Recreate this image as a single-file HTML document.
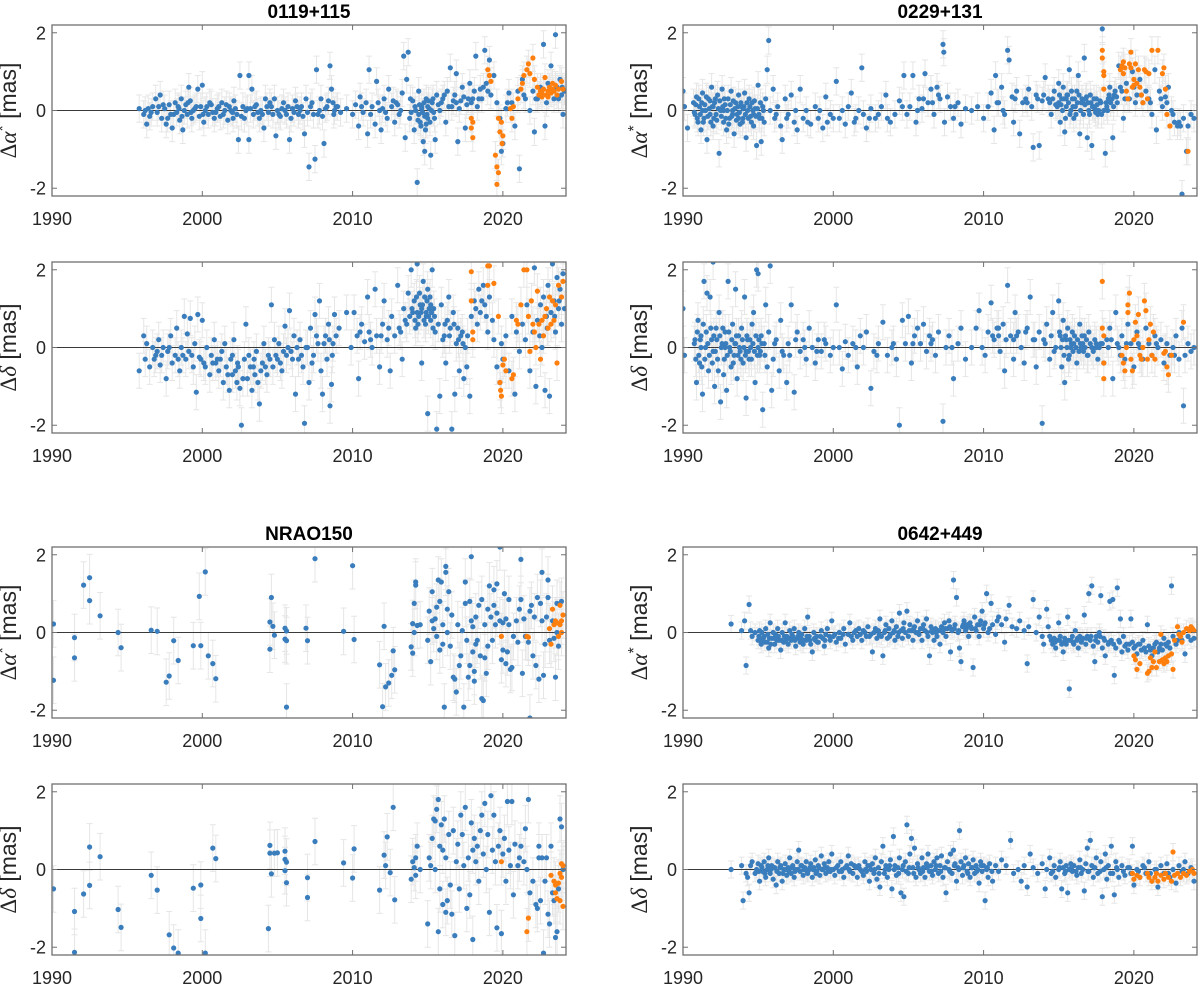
<!DOCTYPE html>
<html><head><meta charset="utf-8"><style>
html,body{margin:0;padding:0;background:#fff;}
svg{display:block;font-family:"Liberation Sans",sans-serif;}
</style></head><body>
<svg id="fig" width="1200" height="984" viewBox="0 0 1200 984" xmlns="http://www.w3.org/2000/svg"></svg>
<script>
const xTicks=[1990,2000,2010,2020];
const yTicks=[-2,0,2];
const sourceNames=["0119+115","0229+131","NRAO150","0642+449"];
const typicalErr=[0.35,0.45,0.35,0.45,0.6,0.6,0.22,0.22];
const blue_0119_ra=[[1995.8,0.05],[1996.1,-0.1],[1996.2,0.0],[1996.3,-0.35],[1996.5,-0.15],[1996.7,0.1],[1996.9,0.3],[1997.0,-0.05],[1997.2,0.4],[1997.3,-0.2],[1997.5,0.05],[1997.6,-0.35],[1997.8,0.15],[1997.9,-0.1],[1998.0,-0.45],[1998.2,0.2],[1998.3,-0.05],[1998.4,0.1],[1998.5,-0.25],[1998.6,0.3],[1998.7,-0.5],[1998.8,0.0],[1998.9,0.15],[1999.0,-0.1],[1999.1,0.6],[1999.2,0.25],[1999.3,-0.2],[1999.5,0.05],[1999.7,0.55],[1999.8,-0.15],[1999.9,0.1],[2000.0,0.65],[2000.1,-0.3],[2000.2,0.0],[2000.4,-0.1],[2000.6,0.15],[2000.8,-0.2],[2001.0,0.05],[2001.2,-0.15],[2001.3,0.2],[2001.5,0.0],[2001.7,-0.25],[2001.8,0.1],[2002.0,-0.05],[2002.1,0.25],[2002.3,-0.1],[2002.4,-0.75],[2002.5,0.9],[2002.7,0.1],[2002.8,-0.2],[2003.0,0.05],[2003.1,0.9],[2003.1,-0.75],[2003.3,0.55],[2003.4,-0.1],[2003.6,0.15],[2003.8,-0.2],[2003.9,0.0],[2004.1,-0.45],[2004.2,0.3],[2004.4,-0.05],[2004.6,0.1],[2004.8,0.3],[2004.9,-0.65],[2005.0,0.0],[2005.2,-0.15],[2005.4,0.2],[2005.6,-0.1],[2005.8,-0.75],[2006.0,0.05],[2006.2,0.25],[2006.4,-0.1],[2006.6,0.1],[2006.8,-0.6],[2006.9,0.3],[2007.0,-0.05],[2007.1,-1.45],[2007.3,0.2],[2007.5,-1.25],[2007.6,1.05],[2007.8,0.0],[2007.9,0.3],[2008.0,-0.15],[2008.1,-0.85],[2008.3,0.1],[2008.5,1.15],[2008.6,0.55],[2008.7,0.2],[2008.8,0.0],[2009.0,0.1],[2009.2,-0.05],[2009.6,0.05],[2010.0,-0.1],[2010.2,0.15],[2010.4,-0.4],[2010.5,0.35],[2010.7,-0.05],[2010.9,0.2],[2011.0,-0.6],[2011.1,1.05],[2011.3,0.1],[2011.5,-0.35],[2011.6,0.75],[2011.8,0.0],[2011.9,-0.5],[2012.1,0.3],[2012.3,-0.2],[2012.4,0.55],[2012.6,0.1],[2012.8,-0.3],[2012.9,0.2],[2013.1,-0.1],[2013.3,0.45],[2013.4,1.4],[2013.5,-0.7],[2013.6,0.8],[2013.7,1.5],[2013.8,-0.2],[2014.0,0.25],[2014.1,-0.5],[2014.2,0.0],[2014.3,-1.85],[2014.4,0.5],[2014.5,-0.3],[2014.6,0.1],[2014.7,-0.8],[2014.8,-1.05],[2014.9,0.3],[2015.0,-0.2],[2015.1,0.05],[2015.2,-1.15],[2015.3,0.2],[2015.5,-0.75],[2015.6,0.4],[2015.8,0.0],[2016.0,0.3],[2016.2,-0.3],[2016.3,0.5],[2016.5,1.1],[2016.6,0.1],[2016.8,0.4],[2016.9,0.95],[2017.0,-0.8],[2017.2,0.25],[2017.3,0.6],[2017.5,-0.45],[2017.6,0.15],[2017.8,0.7],[2018.0,0.3],[2018.2,1.4],[2018.3,0.1],[2018.5,0.55],[2018.6,0.3],[2018.8,1.55],[2018.9,0.7],[2019.1,1.3],[2019.2,0.4],[2019.4,0.9],[2019.6,0.2],[2019.8,-0.2],[2019.9,-1.05],[2020.0,-0.85],[2020.2,0.05],[2020.4,0.45],[2020.6,0.2],[2020.8,-0.4],[2021.0,0.5],[2021.1,-1.5],[2021.3,0.8],[2021.5,0.3],[2021.8,0.0],[2022.0,0.5],[2022.1,-0.55],[2022.3,0.3],[2022.5,0.6],[2022.7,1.7],[2022.8,-0.4],[2023.0,0.7],[2023.2,1.15],[2023.4,0.3],[2023.5,1.95],[2023.6,0.6],[2023.8,0.8],[2023.9,0.4],[2024.0,-0.1],[2024.1,0.5],[2014.4,-0.1],[2014.6,0.05],[2014.8,-0.15],[2015.0,0.1],[2014.9,-0.35],[2015.4,-0.05],[2016.7,0.25],[2017.1,0.05],[2017.9,0.2],[1996.4,0.05],[1997.1,0.1],[1998.1,-0.1],[1999.4,0.0],[2000.3,0.1],[2000.9,-0.05],[2001.4,-0.1],[2001.9,0.0],[2002.6,-0.15],[2003.2,0.05],[2003.7,-0.05],[2004.3,0.1],[2004.7,-0.1],[2005.3,0.05],[2005.7,0.1],[2006.1,-0.05],[2006.5,0.0],[2007.2,0.1],[2007.7,-0.1],[2008.2,0.05],[2008.9,0.1],[2012.0,0.05],[2013.0,0.15],[2013.9,-0.05],[2015.9,0.2],[2016.4,0.1]];
const extra_0119_ra=[[1996.6,-0.05],[1997.4,0.15],[1997.7,-0.2],[1998.45,0.05],[1998.65,-0.15],[1999.05,0.2],[1999.25,-0.05],[1999.6,0.1],[2000.05,-0.1],[2000.5,0.2],[2000.7,-0.05],[2001.1,0.1],[2001.6,0.15],[2002.05,-0.2],[2002.2,0.05],[2002.9,0.0],[2003.5,0.1],[2004.0,-0.1],[2004.5,0.2],[2005.1,-0.1],[2005.5,0.0],[2005.9,-0.2],[2006.3,0.1],[2006.7,-0.15],[2007.4,-0.1],[2008.4,0.25],[2008.75,-0.1],[2010.6,0.1],[2011.2,-0.1],[2011.7,0.2],[2012.2,-0.05],[2012.7,0.25],[2013.2,0.0],[2013.85,0.3],[2014.15,0.1],[2014.35,-0.25],[2014.45,0.15],[2014.55,-0.4],[2014.65,-0.05],[2014.75,0.2],[2014.85,-0.5],[2014.95,-0.1],[2015.05,0.25],[2015.15,-0.3],[2015.25,0.0],[2015.35,0.3],[2015.45,-0.2],[2015.7,0.15],[2016.1,0.4],[2016.9,0.2],[2017.4,0.35],[2017.7,0.3],[2018.1,0.5],[2018.4,0.3],[2018.7,0.6],[2019.0,0.5],[2020.3,0.2],[2021.4,0.4],[2022.2,0.3],[2022.9,0.2],[2023.1,0.5],[2023.7,0.3],[2023.95,0.6]];
const orange_0119_ra=[[2017.9,-0.2],[2017.9,-0.45],[2018.0,-0.7],[2018.0,-0.3],[2019.0,1.05],[2019.1,0.9],[2019.2,0.75],[2019.5,-1.15],[2019.6,-1.45],[2019.6,-1.9],[2019.7,-1.6],[2019.7,-0.2],[2019.8,-0.55],[2019.9,-0.3],[2020.0,-0.65],[2019.95,-0.85],[2020.5,0.05],[2020.6,-0.2],[2020.7,0.1],[2021.0,0.3],[2021.2,0.55],[2021.3,0.7],[2021.4,0.9],[2021.6,1.05],[2021.7,1.2],[2021.8,0.95],[2022.0,1.35],[2022.1,0.8],[2022.3,0.6],[2022.4,0.4],[2022.5,0.5],[2022.6,0.45],[2022.7,0.55],[2022.8,0.85],[2022.9,0.4],[2023.0,0.5],[2023.1,0.6],[2023.2,0.45],[2023.3,0.55],[2023.4,0.5],[2023.5,0.65],[2023.6,0.4],[2023.7,0.55],[2023.9,0.75],[2024.0,0.55],[2022.6,0.35],[2023.0,0.35],[2023.3,0.7]];
const blue_0119_de=[[1995.8,-0.6],[1996.1,0.3],[1996.2,-0.3],[1996.3,0.1],[1996.5,-0.5],[1996.7,0.0],[1996.9,-0.2],[1997.1,0.2],[1997.2,-0.45],[1997.4,0.0],[1997.6,-0.8],[1997.7,-0.1],[1997.9,0.3],[1998.0,-0.4],[1998.2,-0.2],[1998.3,0.5],[1998.5,-0.6],[1998.6,0.0],[1998.8,0.8],[1998.9,-0.3],[1999.0,0.35],[1999.1,-0.1],[1999.2,0.75],[1999.4,-0.5],[1999.5,0.1],[1999.6,-1.15],[1999.7,0.85],[1999.8,-0.25],[2000.0,0.7],[2000.1,-0.4],[2000.3,0.0],[2000.5,-0.7],[2000.6,-0.2],[2000.8,0.2],[2001.0,-0.3],[2001.1,-0.6],[2001.3,-0.1],[2001.4,-0.9],[2001.5,0.1],[2001.6,-0.5],[2001.8,-1.1],[2001.9,-0.3],[2002.0,-0.7],[2002.1,0.2],[2002.3,-0.9],[2002.4,-0.5],[2002.5,-1.05],[2002.6,-2.0],[2002.8,-0.3],[2002.9,0.6],[2003.0,-0.8],[2003.1,-0.2],[2003.3,-1.1],[2003.4,-0.5],[2003.6,-0.1],[2003.7,-0.9],[2003.8,-1.45],[2004.0,-0.4],[2004.1,0.1],[2004.3,-0.7],[2004.4,-0.2],[2004.6,1.1],[2004.7,-0.5],[2004.8,0.2],[2005.0,-0.3],[2005.1,0.1],[2005.3,-0.6],[2005.5,0.55],[2005.6,-0.2],[2005.8,0.95],[2005.9,-0.1],[2006.1,0.3],[2006.2,-1.2],[2006.4,-0.3],[2006.5,0.2],[2006.7,-0.5],[2006.8,-1.95],[2006.9,0.0],[2007.1,-0.9],[2007.2,0.5],[2007.4,-0.2],[2007.5,0.85],[2007.7,0.1],[2007.8,1.2],[2007.9,-0.6],[2008.0,-1.2],[2008.2,0.3],[2008.3,-0.3],[2008.4,0.6],[2008.5,-1.5],[2008.6,-0.95],[2008.7,0.1],[2008.8,0.85],[2008.9,0.3],[2009.1,0.5],[2009.6,0.9],[2009.9,0.0],[2010.1,0.9],[2010.3,0.3],[2010.4,-0.8],[2010.6,0.6],[2010.8,0.15],[2011.0,1.3],[2011.1,0.4],[2011.3,0.0],[2011.5,1.5],[2011.6,0.3],[2011.8,-0.5],[2012.0,0.6],[2012.1,1.2],[2012.3,0.2],[2012.5,-0.6],[2012.6,0.8],[2012.8,0.3],[2013.0,1.6],[2013.1,0.5],[2013.3,-0.3],[2013.4,1.0],[2013.6,0.6],[2013.7,1.4],[2013.8,0.8],[2013.9,2.0],[2014.0,0.9],[2014.1,1.2],[2014.2,0.5],[2014.3,2.15],[2014.4,0.8],[2014.5,1.1],[2014.6,-0.4],[2014.7,1.7],[2014.75,0.7],[2014.8,1.3],[2014.9,0.9],[2015.0,-1.7],[2015.0,1.5],[2015.1,1.0],[2015.2,0.7],[2015.3,2.0],[2015.4,1.0],[2015.5,0.4],[2015.6,-2.1],[2015.7,0.6],[2015.8,-1.25],[2015.9,1.1],[2016.0,0.2],[2016.2,-0.4],[2016.3,0.7],[2016.4,1.3],[2016.5,0.5],[2016.6,-2.1],[2016.7,0.9],[2016.8,-1.2],[2016.9,0.1],[2017.0,0.5],[2017.1,-0.6],[2017.2,0.3],[2017.4,-0.8],[2017.5,0.0],[2017.6,-0.5],[2017.8,-1.25],[2017.9,0.8],[2018.1,1.2],[2018.3,0.6],[2018.4,1.5],[2018.5,0.9],[2018.7,1.6],[2018.8,1.1],[2019.0,0.4],[2019.1,1.3],[2019.3,0.7],[2019.4,0.2],[2019.6,-0.5],[2019.8,-0.9],[2019.9,0.1],[2020.0,-0.3],[2020.2,0.3],[2020.4,-0.6],[2020.6,0.8],[2020.8,-1.2],[2020.9,0.4],[2021.1,-0.1],[2021.3,0.6],[2021.5,0.2],[2021.6,1.1],[2021.8,-0.6],[2022.0,0.4],[2022.1,2.05],[2022.2,-1.0],[2022.3,0.7],[2022.5,1.1],[2022.6,0.0],[2022.7,1.3],[2022.8,-1.1],[2022.9,0.8],[2023.0,1.6],[2023.1,-1.25],[2023.2,0.9],[2023.3,2.15],[2023.4,1.2],[2023.5,0.4],[2023.6,1.8],[2023.7,1.0],[2023.8,1.5],[2023.9,0.6],[2024.0,1.9],[2024.1,1.0],[2014.3,0.9],[2014.6,1.0],[2014.9,0.8],[2015.2,1.1],[1997.0,-0.1],[1998.7,-0.2],[2000.9,-0.4],[2002.2,-0.6],[2003.5,-0.7],[2004.5,-0.3],[2005.4,-0.1],[2007.0,0.0],[2008.1,0.1],[2016.1,0.3],[2017.3,0.4]];
const extra_0119_de=[[1996.8,-0.3],[1997.3,-0.2],[1997.8,0.0],[1998.4,-0.3],[1999.3,-0.2],[1999.9,-0.3],[2000.2,-0.5],[2000.7,-0.4],[2001.2,-0.3],[2001.7,-0.7],[2002.0,-0.2],[2002.35,-0.4],[2002.7,-0.8],[2003.2,-0.5],[2003.45,-0.3],[2003.9,-0.6],[2004.2,-0.5],[2004.9,-0.2],[2005.2,-0.4],[2005.7,0.0],[2006.0,-0.3],[2006.3,0.0],[2006.6,-0.2],[2007.3,-0.4],[2007.6,0.3],[2008.45,0.2],[2008.65,-0.2],[2010.5,0.4],[2011.2,0.2],[2011.9,0.3],[2012.4,0.5],[2013.2,0.4],[2013.5,0.7],[2013.95,1.0],[2014.15,0.7],[2014.25,1.3],[2014.35,0.6],[2014.45,1.4],[2014.55,0.9],[2014.65,1.1],[2014.85,0.6],[2014.95,1.2],[2015.05,0.8],[2015.15,1.3],[2015.25,0.9],[2015.35,0.5],[2015.45,0.8],[2016.15,0.6],[2016.45,0.3],[2016.75,0.6],[2017.05,0.2],[2017.35,0.1],[2017.65,0.3],[2018.2,1.0],[2018.6,1.2],[2018.9,0.8],[2022.45,0.3],[2022.95,0.5],[2023.45,0.8],[2023.75,1.2]];
const orange_0119_de=[[2017.9,1.95],[2017.9,1.2],[2018.0,0.4],[2018.0,0.2],[2019.0,2.1],[2019.1,2.1],[2019.0,1.6],[2019.4,1.65],[2019.7,0.8],[2019.8,-0.9],[2019.85,-1.1],[2019.9,-1.25],[2020.0,-0.45],[2020.1,-0.3],[2020.2,-0.6],[2020.6,-0.8],[2020.7,-0.7],[2020.9,0.7],[2021.0,0.6],[2021.2,1.1],[2021.4,2.0],[2021.6,2.0],[2021.7,0.8],[2021.9,1.2],[2022.0,0.6],[2022.1,0.4],[2022.3,1.45],[2022.4,0.6],[2022.5,-0.3],[2022.6,0.7],[2022.7,0.3],[2022.8,0.8],[2022.9,1.0],[2023.0,0.5],[2023.1,1.3],[2023.2,0.6],[2023.3,1.2],[2023.4,0.7],[2023.5,1.1],[2023.6,-0.4],[2023.7,1.6],[2023.9,1.3],[2024.0,1.7],[2022.2,0.0],[2021.8,-0.1]];
const blue_0229_ra=[[1990.0,0.5],[1990.1,0.1],[1990.3,-0.45],[1990.7,0.2],[1990.8,-0.1],[1990.9,0.35],[1991.0,-0.3],[1991.1,0.1],[1991.2,-0.5],[1991.3,0.45],[1991.4,-0.2],[1991.5,0.0],[1991.6,-0.75],[1991.7,0.3],[1991.8,-0.1],[1991.9,0.6],[1992.0,-0.4],[1992.1,0.2],[1992.2,-0.1],[1992.3,0.4],[1992.4,-1.1],[1992.5,0.0],[1992.6,0.55],[1992.7,-0.3],[1992.8,0.15],[1992.9,-0.5],[1993.0,0.3],[1993.1,-0.2],[1993.2,0.5],[1993.3,0.0],[1993.4,-0.6],[1993.5,0.2],[1993.6,-0.1],[1993.7,0.4],[1993.8,-0.35],[1993.9,0.1],[1994.0,-0.2],[1994.1,0.45],[1994.2,-0.7],[1994.3,0.0],[1994.4,0.3],[1994.5,-0.15],[1994.6,0.2],[1994.7,-0.4],[1994.8,0.05],[1994.9,-0.9],[1995.0,0.65],[1995.1,-0.2],[1995.2,-0.8],[1995.3,0.1],[1995.4,-0.3],[1995.5,0.3],[1995.6,1.05],[1995.7,1.8],[1995.8,0.0],[1996.0,0.55],[1996.1,-0.2],[1996.3,0.1],[1996.5,-0.4],[1996.6,-0.75],[1996.8,0.3],[1997.0,-0.1],[1997.2,0.4],[1997.4,-0.3],[1997.6,-0.5],[1997.8,0.55],[1998.0,-0.2],[1998.2,0.0],[1998.5,-0.35],[1998.8,0.1],[1999.0,-0.2],[1999.3,-0.45],[1999.5,0.35],[1999.8,-0.1],[2000.2,0.75],[2000.4,-0.2],[2000.6,0.0],[2000.8,-0.35],[2001.0,0.1],[2001.2,0.45],[2001.4,-0.3],[2001.7,0.0],[2001.9,1.1],[2002.0,-0.1],[2002.2,-0.45],[2002.5,0.05],[2002.8,-0.2],[2003.2,0.1],[2003.5,0.4],[2003.8,-0.3],[2004.1,-0.1],[2004.4,0.25],[2004.7,0.9],[2004.9,-0.1],[2005.1,0.1],[2005.3,0.9],[2005.5,-0.3],[2005.7,0.3],[2005.9,0.05],[2006.1,0.95],[2006.3,0.2],[2006.5,0.55],[2006.7,-0.1],[2006.9,0.6],[2007.1,0.3],[2007.3,1.7],[2007.35,1.5],[2007.4,-0.3],[2007.6,0.35],[2007.8,0.1],[2008.0,-0.2],[2008.3,0.2],[2008.5,-0.35],[2008.8,0.05],[2009.2,0.0],[2009.6,0.1],[2010.0,-0.2],[2010.3,0.1],[2010.5,0.45],[2010.7,-0.5],[2010.8,0.9],[2011.0,0.2],[2011.2,0.6],[2011.4,-0.1],[2011.6,1.55],[2011.7,1.3],[2011.9,0.35],[2012.0,-0.3],[2012.2,0.5],[2012.4,-0.6],[2012.6,0.2],[2012.8,0.3],[2013.0,0.55],[2013.2,0.1],[2013.3,-0.95],[2013.5,0.4],[2013.7,-0.9],[2013.9,0.25],[2014.1,0.85],[2014.3,0.3],[2014.5,-0.1],[2014.7,0.5],[2014.8,0.15],[2015.0,0.7],[2015.1,-0.3],[2015.2,0.3],[2015.3,0.6],[2015.4,-0.55],[2015.5,0.1],[2015.6,0.4],[2015.7,1.05],[2015.8,0.0],[2015.9,0.3],[2016.0,-0.2],[2016.2,0.5],[2016.3,0.9],[2016.4,-0.6],[2016.5,0.2],[2016.7,1.35],[2016.8,0.3],[2016.9,-0.7],[2017.0,0.0],[2017.1,0.4],[2017.2,-0.9],[2017.3,0.1],[2017.5,0.3],[2017.6,-0.1],[2017.8,0.2],[2017.9,2.1],[2018.0,0.0],[2018.1,-1.1],[2018.3,0.3],[2018.4,0.6],[2018.6,-0.7],[2018.7,0.4],[2018.9,0.2],[2019.0,1.15],[2019.2,0.5],[2019.3,-0.2],[2019.5,0.7],[2019.7,0.3],[2019.9,1.0],[2020.0,0.6],[2020.2,0.4],[2020.4,0.8],[2020.6,0.2],[2020.8,0.5],[2021.0,0.3],[2021.2,-0.1],[2021.4,1.05],[2021.5,-0.5],[2021.7,0.5],[2021.9,0.1],[2022.1,0.35],[2022.3,0.6],[2022.5,0.0],[2022.7,-0.3],[2022.9,-0.4],[2023.0,-0.3],[2023.2,-2.15],[2023.3,-0.2],[2023.5,-1.05],[2023.6,-0.4],[2023.8,-0.1],[2024.0,-0.2],[2015.0,0.2],[2015.5,0.3],[2016.1,0.1],[2016.6,0.2],[2017.4,0.05],[2018.2,0.1],[1991.3,0.0],[1992.0,0.1],[1992.7,0.0],[1993.3,-0.1],[1994.0,0.05],[1994.7,-0.1],[1991.8,0.25],[1993.7,-0.2]];
const extra_0229_ra=[[1990.75,-0.05],[1990.85,0.15],[1990.95,-0.2],[1991.05,0.3],[1991.15,-0.1],[1991.25,0.2],[1991.35,-0.3],[1991.45,0.15],[1991.55,0.35],[1991.65,-0.15],[1991.75,0.05],[1991.85,-0.3],[1991.95,0.1],[1992.05,-0.2],[1992.15,0.3],[1992.25,-0.25],[1992.35,0.05],[1992.45,0.25],[1992.55,-0.15],[1992.65,0.1],[1992.75,0.3],[1992.85,-0.2],[1992.95,0.0],[1993.05,-0.35],[1993.15,0.15],[1993.25,-0.15],[1993.35,0.25],[1993.45,0.05],[1993.55,-0.25],[1993.65,0.1],[1993.75,-0.05],[1993.85,0.2],[1993.95,-0.3],[1994.05,0.1],[1994.15,-0.1],[1994.25,0.2],[1994.35,-0.2],[1994.45,0.1],[1994.55,-0.3],[1994.65,0.0],[1994.75,0.25],[1994.85,-0.15],[1994.95,0.05],[1995.05,-0.1],[1995.15,0.2],[1995.25,-0.2],[1995.35,0.0],[1996.2,-0.1],[1996.9,-0.2],[1997.5,0.0],[1998.3,-0.3],[1999.1,0.0],[1999.6,-0.3],[2000.0,-0.2],[2001.5,-0.2],[2002.4,-0.2],[2003.0,-0.1],[2003.6,-0.2],[2004.6,0.1],[2005.6,0.0],[2006.0,0.3],[2006.6,0.2],[2007.0,0.4],[2008.1,0.1],[2010.9,0.2],[2011.3,0.0],[2012.1,0.3],[2012.9,0.2],[2013.6,0.3],[2014.0,0.4],[2014.4,0.2],[2014.6,0.3],[2014.9,0.1],[2015.05,0.4],[2015.15,0.15],[2015.25,0.0],[2015.35,0.3],[2015.45,-0.2],[2015.55,0.4],[2015.65,0.2],[2015.75,-0.1],[2015.85,0.5],[2015.95,0.1],[2016.05,0.3],[2016.15,-0.1],[2016.25,0.2],[2016.35,0.4],[2016.45,0.0],[2016.55,0.3],[2016.65,-0.1],[2016.75,0.15],[2016.85,0.35],[2016.95,0.2],[2017.05,-0.1],[2017.15,0.2],[2017.25,0.1],[2017.35,0.3],[2017.45,-0.05],[2017.55,0.15],[2017.65,0.0],[2017.75,0.25],[2017.85,-0.1],[2018.15,0.2],[2018.25,0.0],[2018.35,0.4],[2018.45,0.2],[2018.55,0.3],[2018.65,0.1],[2018.75,0.5],[2018.85,0.35],[2019.1,0.6],[2019.4,0.3],[2020.1,0.2],[2020.5,0.4],[2021.1,0.2],[2021.8,0.3],[2022.2,0.2],[2022.6,-0.1],[2023.1,-0.4]];
const orange_0229_ra=[[2017.9,1.55],[2017.9,1.35],[2018.0,1.0],[2018.0,0.9],[2018.0,0.55],[2019.1,1.05],[2019.2,1.15],[2019.3,1.25],[2019.3,0.95],[2019.4,1.1],[2019.5,0.5],[2019.6,0.3],[2019.7,1.2],[2019.8,1.1],[2019.8,1.5],[2019.9,0.6],[2020.0,0.65],[2020.1,1.2],[2020.2,0.7],[2020.3,1.05],[2020.4,0.6],[2020.5,0.4],[2020.6,0.2],[2020.7,1.05],[2020.8,1.0],[2020.9,0.3],[2021.0,0.95],[2021.2,1.55],[2021.6,1.55],[2021.9,0.95],[2022.1,0.55],[2022.0,1.1],[2022.2,-0.1],[2022.4,-0.4],[2023.6,-1.05],[2020.0,0.8]];
const blue_0229_de=[[1990.0,1.0],[1990.1,-0.2],[1990.8,0.2],[1990.9,-0.9],[1991.0,0.7],[1991.1,-0.4],[1991.2,0.3],[1991.3,-1.2],[1991.4,1.7],[1991.5,0.0],[1991.6,1.4],[1991.7,-0.6],[1991.8,1.3],[1991.9,0.2],[1992.0,2.2],[1992.1,-1.0],[1992.2,0.5],[1992.3,-0.3],[1992.4,0.9],[1992.5,-1.4],[1992.6,0.1],[1992.7,-0.7],[1992.8,0.4],[1992.9,-1.1],[1993.0,1.7],[1993.1,0.0],[1993.2,-0.5],[1993.3,0.6],[1993.4,-0.2],[1993.5,1.5],[1993.6,-0.8],[1993.7,0.3],[1993.8,-0.1],[1993.9,0.5],[1994.0,-0.4],[1994.1,1.3],[1994.2,-1.3],[1994.3,0.2],[1994.4,-0.3],[1994.5,0.0],[1994.6,0.6],[1994.7,0.9],[1994.8,-0.9],[1994.9,2.0],[1995.0,1.9],[1995.1,-0.2],[1995.2,0.3],[1995.3,-1.6],[1995.4,0.1],[1995.5,1.1],[1995.6,-0.5],[1995.7,0.4],[1995.8,2.1],[1995.9,-1.1],[1996.0,-0.3],[1996.2,0.2],[1996.4,-0.6],[1996.5,0.7],[1996.7,-0.2],[1996.9,-0.9],[1997.0,0.1],[1997.2,1.1],[1997.4,-1.15],[1997.6,0.4],[1997.8,-0.1],[1998.0,0.2],[1998.2,-0.3],[1998.4,0.5],[1998.6,0.0],[1998.8,-0.4],[1999.0,0.2],[1999.2,-0.1],[1999.5,0.1],[1999.8,-0.2],[2000.2,1.1],[2000.4,0.0],[2000.6,-0.55],[2000.8,0.15],[2001.0,-0.2],[2001.3,0.1],[2001.6,-0.5],[2001.8,0.3],[2002.0,0.0],[2002.2,0.4],[2002.5,-1.05],[2002.7,-0.1],[2003.0,0.1],[2003.3,0.65],[2003.6,-0.2],[2003.9,0.0],[2004.2,-0.3],[2004.4,-2.0],[2004.6,0.7],[2004.8,0.1],[2005.0,0.8],[2005.2,-0.4],[2005.4,0.3],[2005.6,0.5],[2005.8,0.1],[2006.0,0.6],[2006.2,-0.1],[2006.4,0.3],[2006.6,0.2],[2006.8,-0.2],[2007.0,0.4],[2007.3,-1.9],[2007.5,0.0],[2007.7,0.3],[2008.0,-0.8],[2008.3,0.1],[2008.5,0.5],[2008.8,-0.3],[2009.2,0.0],[2009.5,0.5],[2009.7,0.95],[2009.9,0.0],[2010.1,-0.2],[2010.3,0.4],[2010.5,1.15],[2010.7,0.2],[2010.9,0.5],[2011.1,-0.1],[2011.3,0.6],[2011.4,-0.6],[2011.6,1.6],[2011.8,0.3],[2012.0,-0.3],[2012.1,0.9],[2012.3,0.4],[2012.5,0.0],[2012.7,-0.4],[2012.9,0.5],[2013.1,1.3],[2013.3,0.2],[2013.5,-0.5],[2013.7,0.4],[2013.9,-1.95],[2014.0,0.2],[2014.2,0.6],[2014.4,-0.3],[2014.6,0.9],[2014.8,0.0],[2015.0,1.2],[2015.1,0.3],[2015.2,-0.5],[2015.3,0.7],[2015.4,-0.9],[2015.5,0.2],[2015.6,0.5],[2015.7,-0.2],[2015.9,0.4],[2016.0,0.1],[2016.2,-0.4],[2016.4,0.6],[2016.5,0.0],[2016.7,0.3],[2016.9,-0.2],[2017.0,0.4],[2017.2,0.0],[2017.4,0.2],[2017.6,-0.3],[2017.8,0.1],[2018.0,-0.4],[2018.2,0.2],[2018.4,0.5],[2018.6,-0.8],[2018.8,0.9],[2019.0,0.0],[2019.2,0.3],[2019.4,-0.3],[2019.6,0.6],[2019.8,0.1],[2020.0,-0.5],[2020.2,0.4],[2020.4,0.0],[2020.6,-0.3],[2020.8,0.5],[2021.0,0.1],[2021.2,-0.2],[2021.4,0.3],[2021.6,0.0],[2021.8,0.2],[2022.0,-0.4],[2022.2,0.1],[2022.4,-0.2],[2022.6,0.0],[2022.8,0.3],[2023.0,-0.3],[2023.2,0.5],[2023.3,-1.5],[2023.4,-0.2],[2023.6,0.1],[2023.8,-0.1],[2024.0,0.0],[1991.2,0.0],[1992.0,-0.1],[1992.8,0.0],[1993.5,0.1],[1994.2,-0.1],[1995.0,0.0],[2015.8,0.0],[2016.6,0.1],[2017.5,0.0],[2011.0,0.3],[2012.0,0.2]];
const extra_0229_de=[[1990.75,0.1],[1990.85,-0.3],[1990.95,0.4],[1991.05,-0.2],[1991.15,0.2],[1991.25,-0.5],[1991.35,0.6],[1991.45,-0.3],[1991.55,0.4],[1991.65,0.1],[1991.75,-0.2],[1991.85,0.5],[1991.95,-0.4],[1992.05,0.3],[1992.15,-0.1],[1992.25,0.2],[1992.35,-0.6],[1992.45,0.3],[1992.55,0.0],[1992.65,0.5],[1992.75,-0.3],[1992.85,0.1],[1992.95,-0.2],[1993.05,0.4],[1993.15,-0.1],[1993.25,0.2],[1993.35,-0.4],[1993.45,0.1],[1993.55,0.3],[1993.65,-0.2],[1993.75,0.0],[1993.85,-0.3],[1993.95,0.2],[1994.05,0.0],[1994.15,-0.2],[1994.25,0.3],[1994.35,-0.1],[1994.45,0.2],[1994.55,-0.3],[1994.65,0.1],[1994.75,-0.1],[1994.85,0.3],[1994.95,-0.2],[1995.05,0.2],[1995.15,-0.1],[1995.25,0.1],[1995.45,-0.2],[1996.1,0.1],[1996.6,-0.1],[1997.1,-0.2],[1997.5,0.2],[1998.1,0.0],[1998.9,-0.1],[1999.4,0.2],[2000.0,0.0],[2001.5,0.0],[2002.9,-0.2],[2004.0,0.1],[2005.3,0.1],[2006.5,0.1],[2007.9,0.0],[2010.6,0.3],[2011.0,0.5],[2011.5,0.2],[2012.2,0.3],[2012.8,0.4],[2013.4,0.2],[2014.1,0.1],[2014.5,0.3],[2014.7,-0.1],[2015.05,0.4],[2015.15,0.0],[2015.25,0.2],[2015.35,-0.2],[2015.45,0.3],[2015.55,0.0],[2015.65,-0.3],[2015.75,0.2],[2015.85,0.1],[2015.95,-0.1],[2016.05,0.3],[2016.15,0.0],[2016.25,0.2],[2016.35,-0.1],[2016.45,0.1],[2016.55,0.3],[2016.65,-0.1],[2016.75,0.0],[2016.85,0.2],[2016.95,-0.2],[2017.1,0.1],[2017.3,-0.1],[2017.5,0.1],[2017.7,0.0],[2017.9,0.1],[2018.3,0.0],[2018.5,0.2],[2018.9,0.1],[2019.1,-0.2],[2019.5,0.1],[2020.3,0.1],[2021.5,0.1],[2022.7,-0.2]];
const orange_0229_de=[[2017.9,1.7],[2017.9,0.5],[2018.0,0.3],[2018.0,-0.4],[2018.0,-0.8],[2019.2,-0.2],[2019.3,-0.4],[2019.4,-0.6],[2019.5,0.0],[2019.6,1.1],[2019.6,0.9],[2019.7,1.4],[2019.8,-0.3],[2019.9,-0.6],[2020.0,0.2],[2020.1,0.65],[2020.2,0.3],[2020.3,0.85],[2020.4,-0.2],[2020.5,-0.3],[2020.6,0.0],[2020.7,1.2],[2020.8,0.95],[2020.9,-0.3],[2021.0,0.2],[2021.1,0.6],[2021.2,-0.2],[2021.3,0.4],[2021.4,-0.3],[2022.0,-0.15],[2022.2,-0.5],[2022.3,-0.7],[2022.5,-0.2],[2023.3,0.65],[2022.1,-0.1]];
const blue_nrao_ra=[[1990.1,0.22],[1990.1,-1.23],[1991.5,-0.13],[1991.5,-0.65],[1992.1,1.22],[1992.5,0.82],[1992.5,1.41],[1993.2,0.43],[1994.4,0.0],[1994.6,-0.39],[1996.6,0.06],[1997.0,0.03],[1997.6,-1.28],[1997.8,-1.12],[1998.1,-0.21],[1998.4,-0.72],[1999.4,-0.34],[1999.8,0.93],[1999.9,-0.34],[2000.2,1.56],[2000.4,-0.6],[2000.7,-0.8],[2000.9,-1.19],[2004.5,0.27],[2004.5,-0.43],[2004.6,0.9],[2004.7,0.16],[2004.8,-0.07],[2005.5,0.11],[2005.5,-0.17],[2005.6,-1.92],[2005.6,0.04],[2005.6,-0.21],[2006.9,0.11],[2007.0,-0.21],[2007.5,1.9],[2009.4,0.03],[2010.0,1.72],[2010.1,-0.18],[2011.8,-0.83],[2012.0,-1.91],[2012.1,0.16],[2012.2,-1.4],[2012.4,-1.3],[2012.6,-1.1],[2012.7,-0.47],[2012.8,-0.96],[2013.9,-0.37],[2014.0,0.23],[2014.0,-0.53],[2014.1,0.75],[2014.2,1.3],[2014.2,1.22],[2014.3,0.18],[2014.5,0.2],[2014.1,0.0],[2015.0,-0.2],[2015.1,0.55],[2015.2,-0.75],[2015.3,1.05],[2015.3,0.3],[2015.4,0.1],[2015.5,0.35],[2015.6,-0.1],[2015.6,0.65],[2015.7,1.35],[2015.8,-0.45],[2015.8,0.8],[2015.9,1.3],[2016.0,-0.3],[2016.0,0.2],[2016.1,-1.92],[2016.2,1.7],[2016.2,1.55],[2016.3,0.6],[2016.3,0.0],[2016.4,1.05],[2016.5,-0.35],[2016.6,0.45],[2016.7,-1.15],[2016.8,-1.2],[2016.9,-1.53],[2017.0,0.2],[2017.1,-0.85],[2017.2,-0.6],[2017.3,0.05],[2017.4,-1.92],[2017.5,0.75],[2017.5,1.3],[2017.6,-0.2],[2017.7,-1.15],[2017.8,0.8],[2017.8,-0.85],[2017.9,1.95],[2017.9,0.3],[2018.0,-0.5],[2018.0,0.15],[2018.1,-1.0],[2018.1,-1.25],[2018.2,-0.3],[2018.2,0.4],[2018.3,-0.2],[2018.4,0.7],[2018.5,-0.6],[2018.6,0.85],[2018.6,-1.7],[2018.7,-1.75],[2018.8,0.2],[2018.8,-0.65],[2018.9,-1.05],[2019.0,0.6],[2019.0,-0.35],[2019.1,1.2],[2019.2,0.4],[2019.3,-0.2],[2019.4,1.1],[2019.4,0.7],[2019.5,0.2],[2019.6,1.25],[2019.6,0.5],[2019.8,2.2],[2019.8,0.3],[2019.9,-0.7],[2020.0,0.25],[2020.0,-0.45],[2020.1,1.0],[2020.2,0.35],[2020.2,-0.8],[2020.3,-0.5],[2020.4,0.2],[2020.4,0.85],[2020.5,-0.95],[2020.6,-0.9],[2020.7,-0.1],[2020.9,0.3],[2021.0,-0.25],[2021.1,0.6],[2021.2,1.88],[2021.2,0.85],[2021.3,-1.05],[2021.4,0.35],[2021.5,-0.1],[2021.7,-0.25],[2021.8,-2.2],[2021.8,0.55],[2021.9,0.7],[2022.0,-0.6],[2022.1,0.4],[2022.2,-0.85],[2022.3,0.9],[2022.4,-1.2],[2022.5,0.75],[2022.6,1.55],[2022.6,0.3],[2022.7,-1.1],[2022.8,-0.3],[2022.9,0.4],[2023.0,1.35],[2023.0,0.9],[2023.1,-0.2],[2023.3,0.3],[2023.4,-0.15],[2023.5,-1.15],[2023.6,0.75],[2023.7,-0.35],[2023.9,0.8],[2023.6,0.0]];
const extra_nrao_ra=[];
const orange_nrao_ra=[[2019.9,-0.1],[2021.6,-0.1],[2021.7,-0.12],[2023.1,0.1],[2023.2,-0.3],[2023.3,0.6],[2023.4,0.2],[2023.5,0.3],[2023.6,0.25],[2023.7,-0.1],[2023.8,0.7],[2023.8,0.2],[2023.9,0.0],[2024.0,0.45],[2023.9,0.3]];
const blue_nrao_de=[[1990.1,-0.5],[1991.5,-1.08],[1991.5,-2.13],[1992.1,-0.63],[1992.5,-0.41],[1992.5,0.58],[1993.2,0.33],[1994.4,-1.03],[1994.6,-1.49],[1996.6,-0.15],[1997.0,-0.53],[1997.8,-1.68],[1998.1,-2.02],[1998.4,-2.15],[1999.4,-0.48],[1999.9,-1.26],[1999.9,-0.4],[2000.2,-2.15],[2000.7,0.55],[2000.9,0.28],[2004.4,-1.52],[2004.5,0.62],[2004.6,-0.11],[2004.5,0.42],[2004.8,0.42],[2005.0,0.43],[2005.5,0.47],[2005.5,0.26],[2005.5,-0.03],[2005.6,-0.34],[2005.6,0.19],[2007.0,-0.21],[2007.0,-0.72],[2007.5,0.72],[2009.4,0.17],[2010.0,-0.22],[2010.1,0.53],[2011.8,-0.53],[2012.1,0.37],[2012.2,0.1],[2012.3,0.84],[2012.5,-0.08],[2012.7,1.6],[2012.8,-0.78],[2013.9,-0.25],[2014.0,0.2],[2014.1,0.05],[2014.2,-0.15],[2014.3,0.6],[2014.2,0.3],[2014.5,0.0],[2015.0,-1.4],[2015.1,0.3],[2015.2,0.1],[2015.3,0.8],[2015.4,1.3],[2015.5,0.0],[2015.5,1.25],[2015.6,1.55],[2015.7,-1.6],[2015.7,1.8],[2015.8,0.6],[2015.8,-0.5],[2015.9,1.15],[2016.0,-0.9],[2016.0,0.5],[2016.1,1.3],[2016.2,-1.1],[2016.2,0.3],[2016.3,-0.8],[2016.4,0.9],[2016.5,-0.4],[2016.6,-1.15],[2016.7,1.0],[2016.8,-1.7],[2016.9,0.2],[2017.0,0.65],[2017.1,-0.5],[2017.2,1.4],[2017.3,0.9],[2017.4,0.1],[2017.5,1.6],[2017.6,-1.0],[2017.7,0.3],[2017.8,-0.65],[2017.9,1.2],[2018.0,0.5],[2018.0,-1.8],[2018.1,0.8],[2018.2,0.2],[2018.3,0.6],[2018.4,-0.3],[2018.5,1.0],[2018.6,1.4],[2018.7,0.4],[2018.8,1.7],[2018.9,0.0],[2019.0,0.9],[2019.1,-1.1],[2019.2,1.9],[2019.3,0.5],[2019.4,1.4],[2019.5,0.2],[2019.6,-1.5],[2019.7,0.6],[2019.8,1.0],[2019.9,-1.65],[2020.0,0.4],[2020.1,0.8],[2020.2,-0.3],[2020.3,1.75],[2020.4,0.5],[2020.5,0.1],[2020.6,1.75],[2020.7,-0.65],[2020.8,0.65],[2021.0,0.1],[2021.1,0.3],[2021.2,0.6],[2021.4,0.2],[2021.5,1.05],[2021.6,0.0],[2021.7,1.8],[2021.8,-0.6],[2022.0,-0.3],[2022.2,-0.9],[2022.3,-1.0],[2022.4,0.6],[2022.5,-0.8],[2022.6,0.3],[2022.7,-2.15],[2022.8,-0.3],[2022.9,0.3],[2023.0,-1.15],[2023.1,-1.4],[2023.2,0.6],[2023.3,-0.6],[2023.4,-0.8],[2023.5,-1.75],[2023.6,-1.6],[2023.7,-0.5],[2023.8,1.3],[2023.9,1.1],[2024.0,0.0],[2022.4,0.3]];
const extra_nrao_de=[];
const orange_nrao_de=[[2019.9,0.2],[2021.7,-1.25],[2021.6,-1.6],[2023.2,-0.15],[2023.4,-0.3],[2023.5,-0.4],[2023.5,-0.6],[2023.6,-0.75],[2023.7,-0.35],[2023.8,-0.8],[2023.9,-0.2],[2023.9,0.15],[2024.0,-0.95],[2024.0,0.1],[2023.8,-0.1]];
const blue_0642_ra=[[1993.2,0.22],[1993.9,0.05],[1994.1,0.3],[1994.2,-0.85],[1994.4,0.72],[1994.5,0.05],[1994.6,-0.1],[1994.8,0.0],[1995.0,-0.2],[1995.1,0.05],[1995.2,-0.3],[1995.4,-0.1],[1995.5,0.1],[1995.6,-0.25],[1995.7,-0.4],[1995.8,0.25],[1995.9,-0.15],[1996.0,0.0],[1996.1,-0.3],[1996.2,-0.1],[1996.3,0.1],[1996.4,-0.2],[1996.5,-0.45],[1996.6,0.0],[1996.7,-0.25],[1996.8,0.25],[1996.9,-0.1],[1997.0,-0.3],[1997.1,0.05],[1997.2,-0.2],[1997.3,-0.1],[1997.4,0.1],[1997.5,-0.35],[1997.6,-0.15],[1997.7,0.0],[1997.8,-0.25],[1997.9,-0.05],[1998.0,-0.3],[1998.1,0.1],[1998.2,-0.2],[1998.3,0.4],[1998.4,-0.1],[1998.5,-0.3],[1998.6,-0.5],[1998.7,0.0],[1998.8,-0.2],[1998.9,-0.1],[1999.0,-0.25],[1999.2,0.05],[1999.3,-0.15],[1999.4,-0.35],[1999.5,-0.05],[1999.6,0.1],[1999.8,-0.2],[1999.9,0.3],[2000.0,-0.1],[2000.2,-0.25],[2000.4,0.0],[2000.5,-0.15],[2000.7,0.1],[2000.8,-0.3],[2001.0,-0.05],[2001.1,0.25],[2001.3,-0.2],[2001.4,0.0],[2001.6,-0.1],[2001.7,0.1],[2001.9,-0.2],[2002.0,0.05],[2002.2,-0.1],[2002.3,0.15],[2002.5,-0.05],[2002.6,-0.5],[2002.8,0.1],[2002.9,-0.15],[2003.0,0.05],[2003.1,0.35],[2003.2,-0.1],[2003.3,-0.6],[2003.4,0.0],[2003.5,0.2],[2003.6,-0.15],[2003.7,0.1],[2003.8,-0.05],[2003.9,0.3],[2004.0,0.0],[2004.1,-0.2],[2004.2,0.15],[2004.3,-0.1],[2004.4,0.5],[2004.5,0.05],[2004.6,-0.15],[2004.7,0.25],[2004.8,0.0],[2004.9,0.55],[2005.0,-0.1],[2005.1,0.2],[2005.2,0.05],[2005.3,-0.2],[2005.4,0.15],[2005.5,0.0],[2005.6,0.3],[2005.7,-0.05],[2005.8,0.1],[2005.9,-0.2],[2006.0,0.2],[2006.1,0.05],[2006.2,0.35],[2006.3,-0.1],[2006.4,-0.6],[2006.5,0.15],[2006.6,0.0],[2006.7,-0.2],[2006.8,0.1],[2006.9,-0.1],[2007.0,0.05],[2007.1,-0.3],[2007.2,0.15],[2007.3,0.0],[2007.4,0.25],[2007.5,-0.1],[2007.6,0.1],[2007.7,0.3],[2007.8,-0.5],[2007.9,0.05],[2008.0,1.35],[2008.1,0.2],[2008.2,0.9],[2008.3,0.0],[2008.4,-0.4],[2008.5,-0.75],[2008.6,0.15],[2008.7,0.3],[2008.8,0.05],[2008.9,0.2],[2009.0,-0.1],[2009.1,0.25],[2009.2,0.1],[2009.3,-0.9],[2009.4,0.4],[2009.5,0.05],[2009.6,0.2],[2009.7,-0.1],[2009.8,0.3],[2009.9,0.55],[2010.0,0.1],[2010.1,0.25],[2010.2,1.0],[2010.3,0.0],[2010.5,0.75],[2010.6,0.2],[2010.8,-0.05],[2010.9,0.3],[2011.0,0.4],[2011.2,0.2],[2011.4,-0.25],[2011.5,0.35],[2011.7,0.7],[2011.9,0.15],[2012.2,0.1],[2012.4,0.3],[2012.7,0.05],[2012.9,-0.8],[2013.0,0.15],[2013.3,0.85],[2013.5,0.0],[2013.7,0.4],[2013.9,-0.1],[2014.0,-0.3],[2014.2,0.6],[2014.3,0.15],[2014.4,-0.1],[2014.6,-0.3],[2014.7,-0.15],[2014.8,-0.4],[2014.9,-0.2],[2015.0,0.25],[2015.1,-0.1],[2015.2,-0.3],[2015.3,-0.5],[2015.4,-0.15],[2015.5,-0.3],[2015.6,0.4],[2015.7,-1.45],[2015.8,-0.2],[2015.9,-0.1],[2016.0,-0.3],[2016.1,0.05],[2016.2,-0.2],[2016.3,-0.4],[2016.4,-0.1],[2016.5,-0.25],[2016.6,-0.15],[2016.7,0.45],[2016.8,-0.3],[2016.9,-0.1],[2017.0,1.0],[2017.1,-0.2],[2017.2,1.2],[2017.3,-0.35],[2017.4,-0.75],[2017.5,-0.1],[2017.6,-0.25],[2017.7,0.0],[2017.8,0.95],[2017.9,-0.4],[2018.0,-0.15],[2018.1,-0.6],[2018.3,-0.3],[2018.4,0.8],[2018.5,-0.2],[2018.6,0.85],[2018.7,-1.1],[2018.8,-0.4],[2018.9,1.15],[2019.0,-0.2],[2019.1,0.35],[2019.2,-0.5],[2019.3,-0.1],[2019.5,-0.3],[2019.6,-0.45],[2019.8,0.35],[2019.9,-0.25],[2020.0,-0.4],[2020.2,-0.55],[2020.3,-0.3],[2020.5,-0.45],[2020.6,-0.2],[2020.8,-0.5],[2020.9,0.2],[2021.0,-0.35],[2021.2,-0.6],[2021.3,-0.4],[2021.5,-0.25],[2021.6,-0.5],[2021.8,-0.3],[2021.9,-0.45],[2022.0,-0.15],[2022.2,-0.35],[2022.3,-0.25],[2022.5,1.2],[2022.6,-0.1],[2022.8,-0.3],[2023.0,0.0],[2023.2,-0.2],[2023.4,-0.55],[2023.6,-0.1],[2023.8,-0.2],[2024.0,-0.15]];
const extra_0642_ra=[[1995.05,-0.1],[1995.15,-0.2],[1995.25,0.0],[1995.35,-0.15],[1995.45,-0.25],[1995.65,-0.05],[1995.75,-0.15],[1995.85,-0.3],[1996.05,-0.15],[1996.15,-0.05],[1996.25,-0.2],[1996.35,-0.1],[1996.55,-0.2],[1996.75,-0.1],[1996.85,-0.2],[1997.05,-0.15],[1997.25,-0.05],[1997.45,-0.2],[1997.65,-0.1],[1997.85,-0.15],[1998.05,-0.2],[1998.25,-0.1],[1998.45,-0.2],[1998.75,-0.15],[1998.95,-0.25],[1999.15,-0.1],[1999.45,-0.2],[1999.75,-0.1],[2000.1,-0.05],[2000.35,-0.15],[2000.65,-0.05],[2001.2,-0.1],[2001.5,0.05],[2001.8,-0.05],[2002.1,0.0],[2002.4,-0.1],[2002.7,0.0],[2003.05,-0.05],[2003.45,0.05],[2003.75,-0.1],[2004.05,0.05],[2004.35,0.0],[2004.65,0.1],[2005.05,0.05],[2005.35,0.1],[2005.65,0.0],[2005.95,0.1],[2006.25,0.0],[2006.55,0.05],[2006.85,0.0],[2007.15,0.05],[2007.45,0.1],[2007.75,0.15],[2008.05,0.1],[2008.35,0.05],[2008.65,0.2],[2008.85,0.1],[2009.15,0.15],[2009.45,0.1],[2009.75,0.2],[2010.05,0.2],[2010.4,0.1],[2014.5,-0.2],[2014.75,-0.25],[2015.05,-0.2],[2015.35,-0.25],[2015.65,-0.2],[2015.95,-0.25],[2016.25,-0.15],[2016.55,-0.2],[2016.85,-0.15],[2017.15,-0.1],[2017.45,-0.2],[2017.75,-0.1],[2018.05,-0.2],[2018.35,-0.25],[2018.65,-0.3],[2019.05,-0.25],[2019.4,-0.35],[2019.7,-0.3],[2020.1,-0.35],[2020.4,-0.3],[2020.7,-0.4],[2021.1,-0.45],[2021.4,-0.3],[2021.7,-0.4],[2022.1,-0.3],[2022.4,-0.4],[2022.9,-0.2]];
const orange_0642_ra=[[2020.0,-0.6],[2020.1,-0.7],[2020.2,-0.95],[2020.4,-0.8],[2020.9,-1.05],[2021.0,-1.0],[2021.1,-0.65],[2021.2,-0.9],[2021.3,-0.75],[2021.4,-0.5],[2021.5,-0.9],[2021.7,-0.75],[2021.9,-0.7],[2022.0,-0.8],[2022.1,-0.65],[2022.2,-0.75],[2022.3,-0.6],[2021.8,-0.05],[2022.6,-0.95],[2022.7,-0.2],[2022.9,0.15],[2023.0,-0.05],[2023.1,-0.1],[2023.3,0.0],[2023.5,0.1],[2023.7,0.05],[2023.8,0.15],[2023.9,0.1],[2024.0,0.05],[2023.2,-0.25],[2022.5,-0.55]];
const blue_0642_de=[[1993.2,0.0],[1993.9,0.1],[1994.0,-0.8],[1994.2,-0.1],[1994.3,-0.2],[1994.4,-0.6],[1994.5,0.1],[1994.6,0.2],[1994.8,-0.1],[1994.9,0.0],[1995.0,0.15],[1995.1,-0.3],[1995.2,0.1],[1995.3,-0.05],[1995.4,0.2],[1995.5,-0.2],[1995.6,0.0],[1995.7,0.3],[1995.8,-0.1],[1995.9,0.1],[1996.0,-0.25],[1996.1,0.05],[1996.2,-0.4],[1996.3,0.2],[1996.4,-0.1],[1996.5,0.1],[1996.6,-0.3],[1996.7,0.0],[1996.8,0.15],[1996.9,-0.15],[1997.0,0.05],[1997.1,0.3],[1997.2,-0.1],[1997.3,0.1],[1997.4,-0.2],[1997.5,0.0],[1997.6,0.2],[1997.7,0.5],[1997.8,-0.05],[1997.9,0.1],[1998.0,-0.15],[1998.1,0.05],[1998.2,0.2],[1998.3,-0.1],[1998.4,0.0],[1998.5,0.15],[1998.6,-0.2],[1998.7,0.05],[1998.8,0.25],[1998.9,-0.05],[1999.0,0.1],[1999.1,-0.15],[1999.2,0.35],[1999.3,0.0],[1999.4,0.15],[1999.5,-0.1],[1999.6,0.05],[1999.7,0.2],[1999.8,-0.05],[1999.9,0.4],[2000.0,0.0],[2000.1,-0.15],[2000.3,0.1],[2000.4,-0.05],[2000.5,0.2],[2000.6,0.0],[2000.7,-0.2],[2000.9,0.1],[2001.0,0.35],[2001.1,-0.05],[2001.2,0.15],[2001.3,-0.1],[2001.5,0.05],[2001.6,-0.2],[2001.7,0.1],[2001.8,0.0],[2002.0,-0.15],[2002.1,0.2],[2002.2,-0.05],[2002.3,0.1],[2002.4,-0.3],[2002.5,0.0],[2002.6,0.15],[2002.7,-0.1],[2002.8,0.3],[2002.9,-0.25],[2003.0,0.05],[2003.1,-0.45],[2003.2,0.2],[2003.3,0.6],[2003.4,-0.1],[2003.5,0.1],[2003.6,-0.2],[2003.7,0.0],[2003.8,0.25],[2003.9,-0.5],[2004.0,0.85],[2004.1,0.1],[2004.2,-0.15],[2004.3,0.05],[2004.4,0.3],[2004.5,-0.6],[2004.6,0.0],[2004.7,-0.7],[2004.8,0.2],[2004.9,1.15],[2005.0,-0.1],[2005.1,0.4],[2005.2,0.8],[2005.3,0.05],[2005.4,0.55],[2005.5,-0.2],[2005.6,0.15],[2005.7,0.0],[2005.8,-0.1],[2005.9,0.3],[2006.0,0.05],[2006.1,-0.2],[2006.2,0.15],[2006.3,0.4],[2006.4,-0.05],[2006.5,0.1],[2006.6,-0.15],[2006.7,0.2],[2006.8,0.0],[2006.9,0.3],[2007.0,-0.1],[2007.1,0.1],[2007.2,0.35],[2007.3,-0.2],[2007.4,0.05],[2007.5,-0.6],[2007.6,0.2],[2007.7,0.0],[2007.8,0.4],[2007.9,-0.1],[2008.0,0.5],[2008.1,0.15],[2008.2,-0.3],[2008.3,0.05],[2008.4,1.0],[2008.5,0.2],[2008.6,-0.15],[2008.7,0.1],[2008.8,0.3],[2008.9,-0.05],[2009.0,0.15],[2009.1,-0.2],[2009.2,0.05],[2009.3,0.25],[2009.4,-0.1],[2009.5,0.1],[2009.6,0.0],[2009.7,-0.35],[2009.8,0.2],[2009.9,-0.05],[2010.0,0.1],[2010.1,-0.8],[2010.2,0.0],[2010.3,-0.2],[2010.4,0.15],[2010.6,-0.3],[2010.8,0.1],[2011.0,-0.05],[2011.2,0.25],[2011.5,0.1],[2011.8,0.75],[2012.0,-0.1],[2012.3,0.0],[2012.5,-0.3],[2012.7,0.1],[2012.9,-0.45],[2013.1,0.4],[2013.3,0.05],[2013.6,-0.1],[2013.9,0.15],[2014.1,-0.5],[2014.2,0.0],[2014.4,0.3],[2014.5,-0.1],[2014.7,0.1],[2014.8,-0.2],[2015.0,0.0],[2015.1,0.2],[2015.2,-0.5],[2015.3,0.05],[2015.4,-0.1],[2015.5,0.1],[2015.6,-0.6],[2015.7,0.0],[2015.8,0.15],[2015.9,-0.05],[2016.0,0.1],[2016.2,-0.15],[2016.3,0.05],[2016.4,0.25],[2016.5,-0.1],[2016.6,0.0],[2016.7,-0.55],[2016.8,0.15],[2016.9,0.55],[2017.0,-0.05],[2017.1,0.75],[2017.2,0.1],[2017.3,-0.2],[2017.4,0.05],[2017.5,0.3],[2017.6,-0.1],[2017.8,0.2],[2017.9,-0.7],[2018.0,0.0],[2018.1,0.4],[2018.2,-0.25],[2018.3,0.1],[2018.5,0.6],[2018.6,-0.1],[2018.7,-0.65],[2018.8,0.2],[2018.9,0.0],[2019.0,-0.2],[2019.2,0.1],[2019.4,-0.15],[2019.6,0.05],[2019.8,-0.1],[2019.9,0.6],[2020.0,-0.4],[2020.2,0.0],[2020.4,-0.2],[2020.6,0.1],[2020.8,-0.1],[2021.0,0.2],[2021.2,-0.3],[2021.4,0.0],[2021.6,-0.45],[2021.8,0.1],[2022.0,-0.1],[2022.2,0.15],[2022.4,-0.2],[2022.6,0.0],[2022.8,-0.35],[2023.0,0.1],[2023.2,-0.05],[2023.4,0.2],[2023.6,-0.1],[2023.8,0.05],[2024.0,-0.3]];
const extra_0642_de=[[1995.05,-0.05],[1995.25,0.05],[1995.45,-0.1],[1995.65,0.1],[1995.85,0.0],[1996.05,0.05],[1996.25,-0.05],[1996.45,0.05],[1996.65,-0.1],[1996.85,0.0],[1997.05,-0.05],[1997.25,0.05],[1997.45,-0.05],[1997.65,0.0],[1997.85,0.1],[1998.05,0.0],[1998.25,-0.05],[1998.45,0.05],[1998.65,0.0],[1998.85,-0.1],[1999.05,0.05],[1999.25,0.0],[1999.45,0.05],[1999.65,-0.05],[1999.85,0.0],[2000.2,0.05],[2000.55,-0.05],[2000.8,0.05],[2001.05,0.0],[2001.4,0.1],[2001.9,-0.05],[2002.15,0.0],[2002.45,0.1],[2002.75,0.0],[2003.05,-0.1],[2003.45,0.0],[2003.75,0.1],[2004.05,0.0],[2004.35,-0.1],[2004.65,0.1],[2004.85,-0.05],[2005.05,0.05],[2005.35,-0.1],[2005.65,0.05],[2005.95,-0.05],[2006.25,0.05],[2006.55,-0.05],[2006.85,0.1],[2007.15,-0.05],[2007.45,0.05],[2007.75,-0.05],[2008.05,0.1],[2008.35,0.0],[2008.65,0.05],[2008.95,-0.1],[2009.25,0.05],[2009.55,-0.05],[2009.85,0.1],[2010.25,0.05],[2010.55,-0.05],[2014.6,-0.05],[2015.05,0.05],[2015.45,-0.05],[2015.85,0.05],[2016.15,-0.05],[2016.45,0.05],[2016.95,-0.05],[2017.35,0.05],[2017.75,-0.05],[2018.15,0.05],[2018.45,-0.1],[2018.85,0.05],[2019.3,-0.05],[2019.7,0.05],[2020.3,-0.05],[2020.7,0.05],[2021.1,-0.1],[2021.5,0.0],[2022.3,-0.1],[2023.3,0.0]];
const orange_0642_de=[[2019.9,-0.1],[2020.0,-0.25],[2020.2,-0.15],[2020.4,-0.2],[2020.9,-0.1],[2021.0,-0.2],[2021.2,-0.3],[2021.4,-0.2],[2021.5,-0.1],[2021.6,-0.3],[2021.8,-0.15],[2022.0,-0.25],[2022.1,-0.1],[2022.3,-0.2],[2022.5,-0.3],[2022.6,0.45],[2022.7,-0.15],[2022.9,-0.1],[2023.1,-0.2],[2023.3,-0.1],[2023.5,-0.15],[2023.7,-0.05],[2023.9,0.0],[2024.0,-0.1]];

const NS="http://www.w3.org/2000/svg";
const svg=document.getElementById('fig');
const X0=[52,683], W=514, H=171, TOPS=[25,262,547,784];
const XMIN=1990, XMAX=2024.2, YMIN=-2.2, YMAX=2.2;
function mk(tag,attrs,parent){const e=document.createElementNS(NS,tag);for(const k in attrs)e.setAttribute(k,attrs[k]);(parent||svg).appendChild(e);return e;}

function panel(col,row,blue,extra,orange,isRA,slug,err){
  const x0=X0[col], y0=TOPS[row];
  const sx=v=>x0+(v-XMIN)/(XMAX-XMIN)*W;
  const sy=v=>y0+(YMAX-v)/(YMAX-YMIN)*H;
  const g=mk('g',{});
  
  
  const clip='clip-'+slug;
  const cp=mk('clipPath',{id:clip},g); mk('rect',{x:x0,y:y0,width:W,height:H},cp);
  const eg=mk('g',{'clip-path':'url(#'+clip+')',stroke:'#e6e6e6','stroke-width':1},g);
  
  
  const all=blue.concat(extra).concat(orange);
  let d='';
  for(const p of all){
    const x=sx(p[0]), ya=sy(p[1]+err), yb=sy(p[1]-err);
    d+='M'+x.toFixed(1)+' '+ya.toFixed(1)+'V'+yb.toFixed(1)+'M'+(x-3).toFixed(1)+' '+ya.toFixed(1)+'h6M'+(x-3).toFixed(1)+' '+yb.toFixed(1)+'h6';
  }
  mk('path',{d:d,fill:'none'},eg);
  const zero=mk('line',{x1:x0,x2:x0+W,y1:sy(0),y2:sy(0),stroke:'#3a3a3a','stroke-width':1},g);
  
  
  const mg=mk('g',{'clip-path':'url(#'+clip+')'},g);
  for(const p of blue.concat(extra)){
    const c=mk('circle',{cx:sx(p[0]).toFixed(1),cy:sy(p[1]).toFixed(1),r:2.6,fill:'#3a7dbd'},mg);
    
    
  }
  for(const p of orange){
    const c=mk('circle',{cx:sx(p[0]).toFixed(1),cy:sy(p[1]).toFixed(1),r:2.6,fill:'#ff7f0e'},mg);
    
    
  }
  const box=mk('rect',{x:x0,y:y0,width:W,height:H,fill:'none',stroke:'#707070','stroke-width':1.3},g);
  
  
  for(const t of xTicks){
    const x=sx(t);
    mk('line',{x1:x,x2:x,y1:y0+H,y2:y0+H-5,stroke:'#707070'},g);
    mk('line',{x1:x,x2:x,y1:y0,y2:y0+5,stroke:'#707070'},g);
    const tx=mk('text',{x:x,y:y0+H+29,'font-size':18,fill:'#262626','text-anchor':'middle'},g);
    tx.textContent=t;
    
    
  }
  for(const t of yTicks){
    const y=sy(t);
    mk('line',{x1:x0,x2:x0+5,y1:y,y2:y,stroke:'#707070'},g);
    mk('line',{x1:x0+W,x2:x0+W-5,y1:y,y2:y,stroke:'#707070'},g);
    const ty=mk('text',{x:x0-6,y:y+6.5,'font-size':18,fill:'#262626','text-anchor':'end'},g);
    ty.textContent=t;
    
    
  }
  const lx=x0-36, ly=y0+H/2;
  const yl=mk('text',{x:lx,y:ly,'font-size':23,fill:'#262626','text-anchor':'middle',transform:'rotate(-90 '+lx+' '+ly+')'},g);
  
  
  const dl=mk('tspan',{'font-family':'Liberation Serif, serif'},yl); dl.textContent='\u0394';
  const s=mk('tspan',{'font-family':'Liberation Serif, serif','font-style':'italic'},yl); s.textContent=isRA?'\u03b1':'\u03b4';
  if(isRA){const st=mk('tspan',{'font-family':'Liberation Sans, sans-serif','dy':-8,'font-size':16},yl); st.textContent='*'; const sp=mk('tspan',{'dy':8},yl); sp.textContent=' [mas]';}
  else{const sp=mk('tspan',{},yl); sp.textContent=' [mas]';}
}
function title(col,y,txt){
  const t=mk('text',{x:X0[col]+W/2,y:y,'font-size':19,'font-weight':'bold',fill:'#000','text-anchor':'middle'});
  t.textContent=txt;
  
  
}
title(0,18,sourceNames[0]); title(1,18,sourceNames[1]); title(0,540,sourceNames[2]); title(1,540,sourceNames[3]);
panel(0,0,blue_0119_ra,extra_0119_ra,orange_0119_ra,true,'s0119-ra',typicalErr[0]);
panel(0,1,blue_0119_de,extra_0119_de,orange_0119_de,false,'s0119-de',typicalErr[1]);
panel(1,0,blue_0229_ra,extra_0229_ra,orange_0229_ra,true,'s0229-ra',typicalErr[2]);
panel(1,1,blue_0229_de,extra_0229_de,orange_0229_de,false,'s0229-de',typicalErr[3]);
panel(0,2,blue_nrao_ra,extra_nrao_ra,orange_nrao_ra,true,'nrao-ra',typicalErr[4]);
panel(0,3,blue_nrao_de,extra_nrao_de,orange_nrao_de,false,'nrao-de',typicalErr[5]);
panel(1,2,blue_0642_ra,extra_0642_ra,orange_0642_ra,true,'s0642-ra',typicalErr[6]);
panel(1,3,blue_0642_de,extra_0642_de,orange_0642_de,false,'s0642-de',typicalErr[7]);
</script>
</body></html>
